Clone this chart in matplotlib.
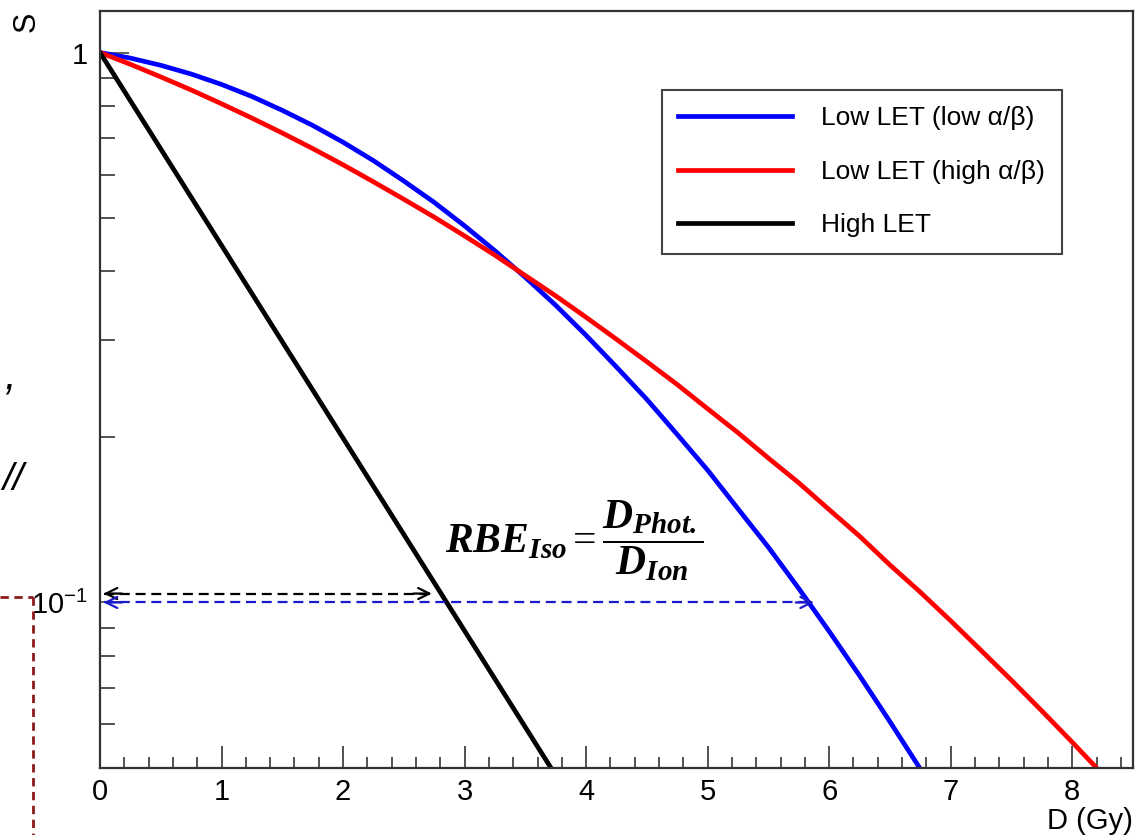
import matplotlib
matplotlib.use("Agg")
import matplotlib.pyplot as plt
from matplotlib.lines import Line2D
from matplotlib.ticker import LogLocator, NullFormatter, MultipleLocator, FixedLocator, FixedFormatter

# ---------------- data ----------------
dose_blue = [0, 0.25, 0.5, 0.75, 1, 1.25, 1.5, 1.75, 2, 2.25, 2.5, 2.75, 3, 3.25, 3.5, 3.75,
             4, 4.25, 4.5, 4.75, 5, 5.25, 5.5, 5.75, 6, 6.25, 6.5, 6.75, 7.0]
surv_blue = [1.0, 0.977, 0.948, 0.914, 0.875, 0.832, 0.785, 0.737, 0.687, 0.636, 0.584, 0.534,
             0.484, 0.436, 0.390, 0.347, 0.306, 0.268, 0.234, 0.202, 0.174, 0.148, 0.126, 0.106,
             0.0886, 0.0736, 0.0607, 0.0498, 0.0405]

dose_red = [0, 0.25, 0.5, 0.75, 1, 1.25, 1.5, 1.75, 2, 2.25, 2.5, 2.75, 3, 3.25, 3.5, 3.75,
            4, 4.25, 4.5, 4.75, 5, 5.25, 5.5, 5.75, 6, 6.25, 6.5, 6.75, 7, 7.25, 7.5, 7.75,
            8, 8.25, 8.5]
surv_red = [1.0, 0.952, 0.903, 0.855, 0.807, 0.760, 0.714, 0.669, 0.625, 0.582, 0.541, 0.502,
            0.464, 0.428, 0.393, 0.361, 0.330, 0.301, 0.274, 0.249, 0.225, 0.2035, 0.183, 0.165,
            0.1475, 0.132, 0.117, 0.1044, 0.0926, 0.0818, 0.0722, 0.0635, 0.0557, 0.0487, 0.0425]

dose_black = [0, 1, 2, 3, 4]
surv_black = [1.0, 0.446, 0.199, 0.0888, 0.0396]

labels = ["Low LET (low \u03b1/\u03b2)", "Low LET (high \u03b1/\u03b2)", "High LET"]

# iso-effect arrows (dose from, dose to, survival level)
arrow_black = (0.03, 2.73, 0.1038)
arrow_blue = (0.03, 5.875, 0.100)

x_ticks = [0, 1, 2, 3, 4, 5, 6, 7, 8]
y_ticks = [0.1, 1]
y_ticklabels = [r"$\mathregular{10^{-1}}$", "1"]

# ---------------- style ----------------
plt.rcParams["font.family"] = ["Liberation Sans", "DejaVu Sans"]
plt.rcParams["mathtext.fontset"] = "custom"
plt.rcParams["mathtext.rm"] = "Liberation Serif"
plt.rcParams["mathtext.it"] = "Liberation Serif:italic"
plt.rcParams["mathtext.bf"] = "Liberation Serif:bold"
plt.rcParams["mathtext.bfit"] = "Liberation Serif:italic:bold"

W, H = 1138, 835
fig = plt.figure(figsize=(W / 100, H / 100), dpi=100)
ax = fig.add_axes([100 / W, 1 - 768 / H, (1133 - 100) / W, (768 - 11) / H])

ax.plot(dose_blue, surv_blue, color="#0000ff", lw=3.4, solid_joinstyle="round")
ax.plot(dose_red, surv_red, color="#ff0000", lw=3.4, solid_joinstyle="round")
ax.plot(dose_black, surv_black, color="black", lw=3.4, solid_joinstyle="round")

ax.set_yscale("log")
ax.set_xlim(0, 8.5)
ax.set_ylim(0.05, 1.19)

ax.xaxis.set_major_locator(FixedLocator(x_ticks))
ax.xaxis.set_minor_locator(MultipleLocator(0.2))
ax.yaxis.set_major_locator(FixedLocator(y_ticks))
ax.yaxis.set_major_formatter(FixedFormatter(y_ticklabels))
ax.yaxis.set_minor_locator(LogLocator(base=10, subs=[2, 3, 4, 5, 6, 7, 8, 9]))
ax.yaxis.set_minor_formatter(NullFormatter())

ax.tick_params(axis="x", which="major", direction="in", length=16, width=1.2, color="#333333",
               labelsize=21, pad=7)
ax.tick_params(axis="x", which="minor", direction="in", length=8, width=1.2, color="#333333")
ax.tick_params(axis="y", which="major", direction="in", length=21, width=1.2, color="#444444",
               labelsize=21, pad=9)
ax.tick_params(axis="y", which="minor", direction="in", length=11, width=1.2, color="#333333")
for s in ax.spines.values():
    s.set_linewidth(1.6)
    s.set_color("#333333")

# arrows
for (x0, x1, yv), col in [(arrow_black, "black"), (arrow_blue, "#1a1acc")]:
    ax.plot([x0, x1], [yv, yv], color=col, lw=1.6, linestyle=(0, (4.5, 2.6)))
    ax.annotate("", xy=(x0, yv), xytext=(x0 + 0.15, yv),
                arrowprops=dict(arrowstyle="->", color=col, lw=1.6, mutation_scale=20,
                                shrinkA=0, shrinkB=0))
    ax.annotate("", xy=(x1, yv), xytext=(x1 - 0.15, yv),
                arrowprops=dict(arrowstyle="->", color=col, lw=1.6, mutation_scale=20,
                                shrinkA=0, shrinkB=0))

# formula
fig.text(445 / W, 1 - 541 / H,
         r"$\mathbfit{RBE}_{\mathbfit{Iso}} = \dfrac{\mathbfit{D}_{\mathbfit{Phot.}}}{\mathbfit{D}_{\mathbfit{Ion}}}$",
         fontsize=30, ha="left", va="center", color="black")

# legend
handles = [Line2D([], [], color=c, lw=3.4) for c in ["#0000ff", "#ff0000", "black"]]
leg = ax.legend(handles, labels, loc="upper left", bbox_to_anchor=(662 / W, 1 - 90 / H),
                bbox_transform=fig.transFigure, fontsize=19, handlelength=4.3,
                handletextpad=1.12, labelspacing=1.12, borderpad=0.62, borderaxespad=0,
                fancybox=False, framealpha=1, edgecolor="#444444")
leg.get_frame().set_linewidth(1.5)

# axis titles
fig.text(27 / W, 1 - 22 / H, "S", rotation=90, fontsize=22, ha="center", va="center")
fig.text(1133 / W, 1 - 829 / H, "D (Gy)", fontsize=21, ha="right", va="baseline")

# slide remnants on the left
fig.text(4 / W, 1 - 378 / H, ",", fontsize=30, style="italic", ha="left", va="center")
fig.text(2 / W, 1 - 480 / H, "//", fontsize=28, style="italic", ha="left", va="center")
red_dark = "#8b1a1a"
fig.add_artist(Line2D([0, 33 / W], [1 - 597 / H, 1 - 597 / H], transform=fig.transFigure,
                      color=red_dark, lw=2, linestyle=(0, (3, 2))))
fig.add_artist(Line2D([33 / W, 33 / W], [1 - 597 / H, 0], transform=fig.transFigure,
                      color=red_dark, lw=2, linestyle=(0, (3, 2))))

fig.savefig("out.png", dpi=100)
